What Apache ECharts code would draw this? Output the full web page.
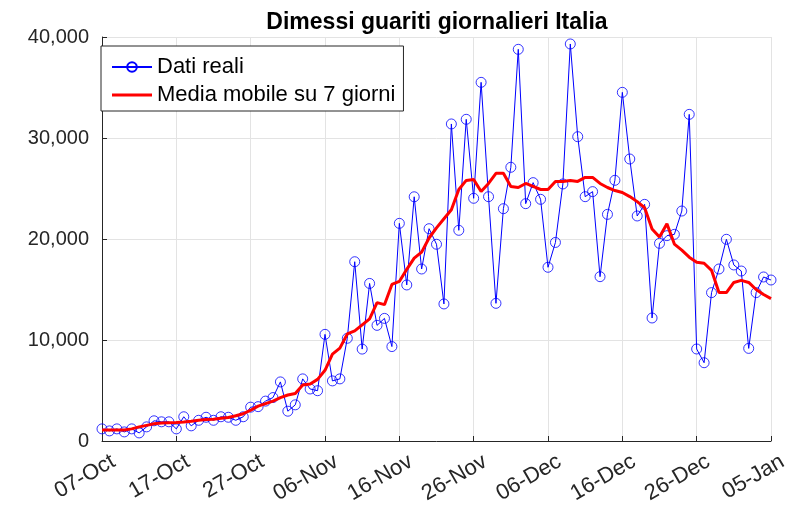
<!DOCTYPE html>
<html>
<head>
<meta charset="utf-8">
<script src="https://cdn.jsdelivr.net/npm/echarts@6/dist/echarts.min.js"></script>
<style>
html,body{margin:0;padding:0;background:#fff;}
#chart{width:793px;height:507px;}
</style>
</head>
<body>
<div id="chart"></div>
<script>
// Tick labels every 10 days, starting 07-Oct (day index 0)
const tickLabels = ['07-Oct','17-Oct','27-Oct','06-Nov','16-Nov','26-Nov','06-Dec','16-Dec','26-Dec','05-Jan'];

// Daily recovered (Dati reali), one value per day from 07-Oct to 05-Jan
const datiReali = [
  1200, 1000, 1200, 900, 1200, 800, 1400, 2000, 1900, 1900,
  1200, 2400, 1500, 2050, 2350, 2050, 2400, 2350, 2050, 2400,
  3350, 3400, 3950, 4300, 5850, 2950, 3580, 6150, 5150, 4980,
  10560, 5950, 6150, 10170, 17750, 9100, 15600, 11450, 12140, 9350,
  21550, 15450, 24180, 17030, 21020, 19480, 13570, 31390, 20860, 31850,
  24030, 35510, 24190, 13630, 23000, 27100, 38780, 23500, 25580, 23930,
  17200, 19660, 25450, 39310, 30130, 24190, 24690, 16270, 22440, 25810,
  34520, 27920, 22280, 23430, 12180, 19570, 20330, 20460, 22770, 32340,
  9110, 7750, 14690, 17030, 19970, 17430, 16830, 9170, 14690, 16240,
  15940
];

// 7-day moving average
const mediaMobile = [
  1080, 1080, 1090, 1100, 1200, 1400, 1550, 1700, 1780, 1800,
  1820, 1880, 1950, 2050, 2120, 2150, 2250, 2330, 2500, 2700,
  3050, 3450, 3700, 3950, 4300, 4550, 4700, 5550, 5650, 6100,
  7000, 8600, 9200, 10600, 10900, 11500, 12100, 13700, 13500, 15500,
  15800, 17000, 18100, 18700, 20100, 21100, 22000, 22900, 24900, 25800,
  25900, 24700, 25500, 26500, 26500, 25200, 25100, 25500, 25200, 24900,
  24900, 25700, 25700, 25800, 25700, 26100, 26100, 25500, 25100, 24800,
  24600, 24200, 23700, 23100, 21000, 20200, 21500, 19500, 18900, 18200,
  17700, 17600, 16900, 14700, 14700, 15700, 15900, 15700, 15000, 14500,
  14100
];

const seriesNames = ['Dati reali', 'Media mobile su 7 giorni'];
const titleText = 'Dimessi guariti giornalieri Italia';

const FONT = '"Liberation Sans", Arial, Helvetica, sans-serif';
const AX = '#262626';

const chart = echarts.init(document.getElementById('chart'), null, {renderer: 'canvas'});
chart.setOption({
  animation: false,
  backgroundColor: '#ffffff',
  title: {
    text: titleText,
    left: 432, top: 6, textAlign: 'center',
    textStyle: {fontFamily: FONT, fontSize: 23, fontWeight: 'bold', color: '#000'}
  },
  legend: {
    orient: 'vertical',
    left: 101, top: 46,
    padding: [10, 8, 5, 10],
    itemGap: 6,
    itemWidth: 40, itemHeight: 12,
    backgroundColor: '#fff',
    borderColor: AX, borderWidth: 1,
    textStyle: {fontFamily: FONT, fontSize: 22, color: '#000'},
    data: [
      {name: seriesNames[0]},
      {name: seriesNames[1], icon: 'path://M0 0H40V3H0Z'}
    ]
  },
  grid: {left: 102, top: 37, width: 669, height: 404, containLabel: false, outerBoundsMode: 'none'},
  xAxis: {
    type: 'value', min: 0, max: 90, interval: 10,
    axisLine: {show: true, onZero: false, lineStyle: {color: AX, width: 1}},
    axisTick: {show: true, inside: true, length: 5, lineStyle: {color: AX}},
    axisLabel: {
      rotate: 30, margin: 13, verticalAlign: 'top', padding: [0, -7, 0, 0],
      fontFamily: FONT, fontSize: 22, color: AX,
      formatter: v => tickLabels[Math.round(v / 10)] || ''
    },
    splitLine: {show: true, lineStyle: {color: '#e3e3e3', width: 1}}
  },
  yAxis: {
    type: 'value', min: 0, max: 40000, interval: 10000,
    axisLine: {show: true, lineStyle: {color: AX, width: 1}},
    axisTick: {show: true, inside: true, length: 5, lineStyle: {color: AX}},
    axisLabel: {
      margin: 13, fontFamily: FONT, fontSize: 20, color: AX,
      formatter: v => v.toLocaleString('en-US')
    },
    splitLine: {show: true, lineStyle: {color: '#e3e3e3', width: 1}}
  },
  series: [
    {
      name: seriesNames[0], type: 'line',
      data: datiReali.map((v, i) => [i, v]),
      symbol: 'circle', symbolSize: 10, showSymbol: true,
      lineStyle: {color: '#0000ff', width: 1},
      itemStyle: {color: 'rgba(255,255,255,0)', borderColor: '#0000ff', borderWidth: 0.8},
      z: 2
    },
    {
      name: seriesNames[1], type: 'line',
      data: mediaMobile.map((v, i) => [i, v]),
      symbol: 'none', showSymbol: false,
      lineStyle: {color: '#ff0000', width: 3},
      itemStyle: {color: '#ff0000'},
      z: 3
    }
  ]
});
</script>
</body>
</html>
